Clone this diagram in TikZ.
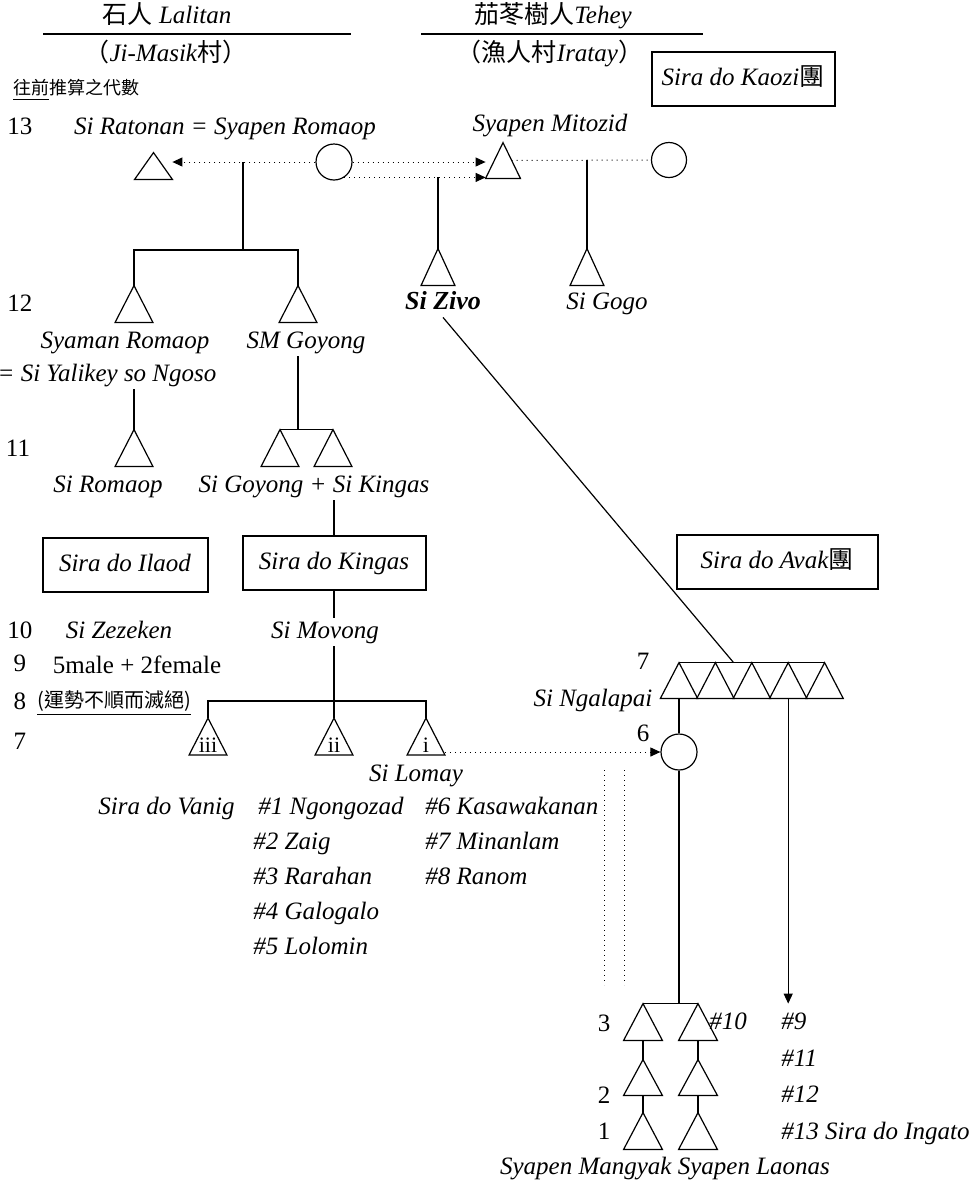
\documentclass[tikz,border=0pt]{standalone}
\usepackage{fontspec}
\setmainfont{Liberation Serif}
\newfontfamily\cjk{Noto Sans CJK TC}
\usepackage{tikz}
\usetikzlibrary{positioning, arrows.meta, calc}
\newcommand{\zh}[1]{{\cjk\upshape #1}}
\tikzset{
    kin/.style     = {line width=0.6pt},
    kinarr/.style  = {kin, -{Triangle[length=5pt, width=4.5pt]}},
    dotline/.style = {dotted, line width=0.5pt},
    dotarr/.style  = {dotline, -{Triangle[length=5pt, width=4.5pt]}},
    tri/.style     = {minimum width=18.5pt, minimum height=18pt, inner sep=0pt,
                      append after command={\pgfextra{\draw[kin] (\tikzlastnode.south west)
                      -- (\tikzlastnode.north) -- (\tikzlastnode.south east) -- cycle;}}},
    circ/.style    = {circle, draw, kin, minimum size=18pt, inner sep=0pt},
    pers/.style    = {font=\itshape\fontsize{12.5}{15}\selectfont, inner sep=1pt,
                      text height=9pt, text depth=3pt},
    zivo/.style    = {font=\bfseries\itshape\fontsize{13}{15}\selectfont, inner sep=1pt,
                      text height=9pt, text depth=3pt},
    num/.style     = {font=\fontsize{12.5}{15}\selectfont, inner sep=1pt,
                      text height=9pt, text depth=3pt},
    clan/.style    = {draw, line width=1pt, minimum width=91.5pt, minimum height=27pt,
                      font=\itshape\fontsize{12.5}{15}\selectfont, text height=9pt, text depth=3pt},
    romlbl/.style  = {anchor=south, inner sep=0.8pt, font=\fontsize{11}{12}\selectfont},
}

\begin{document}
\begin{tikzpicture}[x=0.5pt, y=-0.5pt, font=\fontsize{12.5}{15}\selectfont]
\useasboundingbox (0,0) rectangle (975,1184);

% headings of the two villages
\node[num] (hdL) at (167,17) {\zh{石人} \textit{Lalitan}};
\node[num] (hdR) at (553,17) {\zh{茄苳樹人}\textit{Tehey}};
\draw[kin] (43,34) -- (351,34);
\draw[kin] (421,34) -- (703,34);
\node[num] (vilL) at (166,55) {\zh{（}\textit{Ji-Masik}\zh{村）}};
\node[num] (vilR) at (550,55) {\zh{（漁人村}\textit{Iratay}\zh{）}};
\node[clan] (kaozi) at (743,79) {Sira do Kaozi\zh{團}};
\node[anchor=west, font=\cjk\fontsize{9}{11}\selectfont] (gennote) at (6,90)
    {\underline{往前}推算之代數};

% generation 13
\node[num] (g13) at (20,128) {13};
\node[pers] (ratonan) at (225,128) {Si Ratonan = Syapen Romaop};
\node[tri, minimum height=13pt] (tRat) at (153.5,166) {};
\node[circ] (cRom) at (334,162) {};
\node[pers] (mitozid) at (550,125) {Syapen Mitozid};
\node[tri, minimum width=17pt, minimum height=17.5pt] (tMit) at (503,160.5) {};
\node[circ, minimum size=17.5pt] (cMit) at (669,160) {};

\draw[dotarr] (cRom.west) -- (cRom.west -| tRat.east);
\draw[dotarr] (cRom.east) -- (cRom.east -| tMit.west);
\draw[dotarr] (cRom.-56) -- (cRom.-56 -| tMit.south west);
\draw[dotline] ($(tMit.center)!0.5!(tMit.east)$) -- (cMit.west);

% generation 12
\node[num] (g12) at (20,305) {12};
\node[tri] (tSya) at (134,304) {};
\node[tri] (tSMG) at (298,304) {};
\node[tri, minimum width=16.5pt] (tZivo) at (438,267) {};
\node[tri, minimum width=16.5pt] (tGogo) at (587,267) {};
\node[zivo] (zivo) at (443,303) {Si Zivo};
\node[pers] (gogo) at (607,303) {Si Gogo};
\node[pers] (syaman) at (125,342) {Syaman Romaop};
\node[pers] (smgoy) at (306,342) {SM Goyong};
\node[pers] (yalikey) at (107,375) {= Si Yalikey so Ngoso};

\coordinate (jRat) at (243,250);
\draw[kin] (jRat |- cRom.west) -- (jRat);
\draw[kin] (tSya.north) |- (jRat) -| (tSMG.north);
\draw[kin] (tZivo.north |- cRom.-56) -- (tZivo.north);
\draw[kin] (tGogo.north |- cMit.west) -- (tGogo.north);

% generation 11
\node[num] (g11) at (18,450) {11};
\node[tri] (tRomaop) at (134,448) {};
\node[tri] (tGoy) at (280,448) {};
\node[tri] (tKin) at (333,448) {};
\node[pers] (romaop) at (108,486) {Si Romaop};
\node[pers] (goykin) at (314,486) {Si Goyong + Si Kingas};

\coordinate (jGoy) at (298,430);
\draw[kin] (tRomaop.north |- yalikey.south) -- (tRomaop.north);
\draw[kin] (jGoy |- smgoy.south) -- (jGoy);
\draw[kin] (tGoy.north) -- (tKin.north);

% clans
\node[clan, minimum width=82.5pt] (ilaod) at (125,565) {Sira do Ilaod};
\node[clan] (kingas) at (334,563) {Sira do Kingas};
\node[clan, minimum width=100.5pt] (avak) at (777,562) {Sira do Avak\zh{團}};
\draw[kin] (kingas.north |- goykin.south) -- (kingas.north);

% generations 10 to 7
\node[num] (g10) at (20,632) {10};
\node[pers] (zezeken) at (119,632) {Si Zezeken};
\node[pers] (movong) at (325,632) {Si Movong};
\node[num] (g9) at (20,665) {9};
\node[num] (fivemale) at (137,667) {5male + 2female};
\node[num] (g8) at (20,703) {8};
\node[font=\cjk\fontsize{10}{12}\selectfont] (extinct) at (114,703) {\underline{(運勢不順而滅絕)}};
\node[num] (g7) at (20,743) {7};
\node[tri, label={[romlbl]south:iii}] (tIII) at (208,736.5) {};
\node[tri, label={[romlbl]south:ii}] (tII) at (334,736.5) {};
\node[tri, label={[romlbl]south:i}] (tI) at (426,736.5) {};
\node[pers] (lomay) at (416,775) {Si Lomay};

\coordinate (jMov) at (334,701);
\draw[kin] (kingas.south) -- (kingas.south |- movong.north);
\draw[kin] (jMov |- movong.south) -- (tII.north);
\draw[kin] (tIII.north) |- (jMov) -| (tI.north);

% Si Ngalapai and the Avak line
\node[num] (g7r) at (643,663) {7};
\node[pers] (ngalapai) at (593,700) {Si Ngalapai};
\foreach \k in {1,...,5}
    \node[tri, minimum width=18.2pt, minimum height=17.5pt] (ng\k) at ({679+36.4*(\k-1)},680.5) {};
\draw[kin] (ng1.north) -- (ng5.north);
\draw[kin] (zivo.south) -- ($(ng2.north)!0.5!(ng3.north)$);
\node[num] (g6) at (643,735) {6};
\node[circ] (c6) at (679,752) {};
\draw[dotarr] (c6.west -| tI.east) -- (c6.west);
\draw[kin] (ng1.south) -- (c6.north);

\draw[dotline] (604,770) -- (604,985);
\draw[dotline] (624,770) -- (624,985);

% lineages of Si Lomay
\node[pers, anchor=east] (vanig) at (237,808) {Sira do Vanig};
\node[pers, anchor=west] (m1) at (256,808) {\#1 Ngongozad};
\node[pers, anchor=west] (m2) at (251,843) {\#2 Zaig};
\node[pers, anchor=west] (m3) at (251,878) {\#3 Rarahan};
\node[pers, anchor=west] (m4) at (251,913) {\#4 Galogalo};
\node[pers, anchor=west] (m5) at (251,948) {\#5 Lolomin};
\node[pers, anchor=west] (m6) at (423,808) {\#6 Kasawakanan};
\node[pers, anchor=west] (m7) at (423,843) {\#7 Minanlam};
\node[pers, anchor=west] (m8) at (423,878) {\#8 Ranom};

% generations 3 to 1
\node[tri, minimum width=19pt] (t3a) at (643,1022) {};
\node[tri, minimum width=19pt] (t3b) at (698,1022) {};
\node[tri, minimum width=19pt, minimum height=17.5pt] (t2a) at (643,1077.5) {};
\node[tri, minimum width=19pt, minimum height=17.5pt] (t2b) at (698,1077.5) {};
\node[tri, minimum width=19pt] (t1a) at (643,1131) {};
\node[tri, minimum width=19pt] (t1b) at (698,1131) {};
\node[num] (g3) at (604,1025) {3};
\node[num] (g2) at (604,1097) {2};
\node[num] (g1) at (604,1133) {1};

\coordinate (j3) at (679,1004);
\draw[kin] (c6.south) -- (j3);
\draw[kin] (t3a.north) -- (t3b.north);
\draw[kin] (t3a.south) -- (t2a.north);
\draw[kin] (t2a.south) -- (t1a.north);
\draw[kin] (t3b.south) -- (t2b.north);
\draw[kin] (t2b.south) -- (t1b.north);
\draw[kinarr] (ng4.south) -- (ng4.south |- t3b.north);

\node[pers] (m10) at (728,1023) {\#10};
\node[pers, anchor=west] (m9) at (779,1023) {\#9};
\node[pers, anchor=west] (m11) at (779,1060) {\#11};
\node[pers, anchor=west] (m12) at (779,1096) {\#12};
\node[pers, anchor=west] (m13) at (779,1133) {\#13 Sira do Ingato};
\node[pers] (laonas) at (665,1168) {Syapen Mangyak Syapen Laonas};

\end{tikzpicture}
\end{document}
